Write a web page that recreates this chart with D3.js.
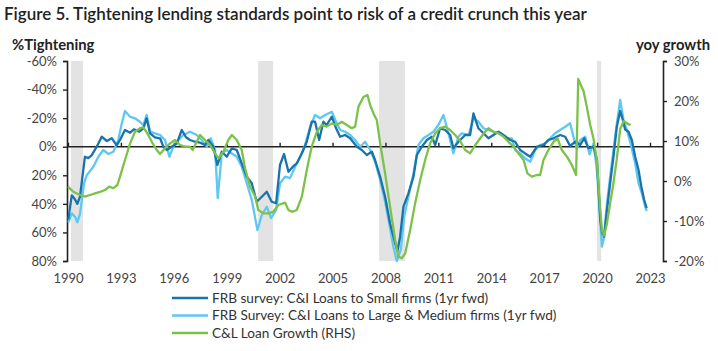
<!DOCTYPE html>
<html>
<head>
<meta charset="utf-8">
<script src="https://cdn.jsdelivr.net/npm/d3@7"></script>
<style>
  html, body { margin: 0; padding: 0; background: #fff; }
  text { font-family: Lato, "Noto Sans", sans-serif; fill: #333; }
</style>
</head>
<body>
<svg id="chart" width="718" height="351"></svg>
<script>
// ---------- DATA ----------
const title = "Figure 5. Tightening lending standards point to risk of a credit crunch this year";
const leftTitle = "%Tightening";
const rightTitle = "yoy growth";
const xTickYears = [1990, 1993, 1996, 1999, 2002, 2005, 2008, 2011, 2014, 2017, 2020, 2023];
const leftTicks = [-60, -40, -20, 0, 20, 40, 60, 80];
const rightTicks = [30, 20, 10, 0, -10, -20];
const seriesNames = [
  "FRB survey: C&I Loans to Small firms (1yr fwd)",
  "FRB Survey: C&I Loans to Large & Medium firms (1yr fwd)",
  "C&L Loan Growth (RHS)"
];
const recessions = [[1990.17, 1990.85], [2000.78, 2001.63], [2007.64, 2009.11], [2020.0, 2020.23]];

// [decimal year, % tightening]
const smallFirms = [
  [1990.02,51],[1990.21,34],[1990.40,37],[1990.53,40],[1990.68,35],[1990.96,7],[1991.15,8],[1991.34,6],
  [1991.63,0],[1991.91,-7],[1992.20,-4],[1992.48,-6],[1992.76,-1],[1992.95,-4.7],[1993.23,-11.7],[1993.52,-9.8],
  [1993.74,-12.2],[1994.04,-10.5],[1994.27,-12.9],[1994.46,-19.9],[1994.65,-9.4],[1994.93,-6.6],[1995.22,-5.9],
  [1995.41,0],[1995.60,2.3],[1995.88,0],[1996.17,-2.3],[1996.45,-11.7],[1996.69,-6.6],[1996.92,-4.7],[1997.20,-3.5],
  [1997.49,-2.8],[1997.77,-1.2],[1997.96,-4.7],[1998.24,0],[1998.47,12.8],[1998.72,3.5],[1999.00,7],[1999.29,1.2],
  [1999.57,2.3],[1999.85,11.7],[2000.14,21],[2000.42,25.6],[2000.70,38.5],[2000.99,35],[2001.27,31.5],[2001.55,38.5],
  [2001.80,39.6],[2002.02,12.8],[2002.25,5.1],[2002.50,17.5],[2002.75,14],[2002.97,11.7],[2003.26,4.7],[2003.54,-3.5],
  [2003.82,-17.5],[2004.01,-17.5],[2004.24,-4.7],[2004.48,-17.5],[2004.67,-15.2],[2004.96,-21],[2005.20,-12.9],
  [2005.43,-7],[2005.71,-8.2],[2006.00,-5.9],[2006.38,0],[2006.66,2.3],[2006.94,5.8],[2007.23,3.5],[2007.41,9.3],
  [2007.70,21],[2007.98,35],[2008.26,53.6],[2008.55,67.6],[2008.68,73],[2008.83,63],[2009.02,42],[2009.30,32.6],
  [2009.59,21],[2009.78,5.8],[2010.06,0],[2010.35,-4.7],[2010.63,-7],[2010.82,-1.2],[2011.10,-12.9],[2011.38,-11.7],
  [2011.67,-8.2],[2011.85,1],[2012.14,-3.5],[2012.52,-8.2],[2012.80,-8.2],[2012.99,-23.3],[2013.27,-12.9],[2013.56,-9.4],
  [2013.84,-5.9],[2014.12,-8.2],[2014.41,-10.5],[2014.69,-8.2],[2015.07,-4.7],[2015.35,-3.5],[2015.64,2.3],[2015.92,4.7],
  [2016.21,7],[2016.59,0],[2016.96,-1.2],[2017.24,-4.7],[2017.53,-5.9],[2017.91,-8.2],[2018.19,-7],[2018.47,-0.5],
  [2018.76,-3.5],[2019.04,-1.2],[2019.27,-5.9],[2019.51,1.2],[2019.80,0],[2019.99,9.3],[2020.18,51],[2020.27,59.5],
  [2020.40,63],[2020.56,44.3],[2020.74,25.6],[2020.93,7],[2021.12,-14],[2021.31,-25],[2021.46,-18.7],[2021.59,-12],
  [2021.78,-10.5],[2021.97,-4.7],[2022.16,7],[2022.35,16.3],[2022.51,28],[2022.67,37.3],[2022.81,43]
];

const largeFirms = [
  [1990.02,53],[1990.21,46.7],[1990.40,49],[1990.53,53],[1990.68,47],[1990.91,25.6],[1991.06,20],[1991.15,18.6],
  [1991.44,14],[1991.72,7],[1992.00,2.3],[1992.29,5.1],[1992.57,3.5],[1992.85,-4.7],[1993.05,-16.4],[1993.23,-25],
  [1993.52,-21],[1993.80,-19.9],[1994.08,-17.5],[1994.27,-15.2],[1994.46,-22.2],[1994.65,-10.5],[1994.93,-9.4],
  [1995.22,-8.2],[1995.50,-4.7],[1995.75,7],[1995.97,0],[1996.26,-4.7],[1996.54,-8.2],[1996.92,-10.5],[1997.30,-8.2],
  [1997.58,-4.7],[1997.87,0],[1998.09,-5.9],[1998.34,2.3],[1998.49,36],[1998.72,4.7],[1999.00,2.3],[1999.29,4.7],
  [1999.57,7],[1999.85,14],[2000.14,25.6],[2000.42,37.3],[2000.74,58.3],[2000.99,47.8],[2001.27,42],[2001.51,50],
  [2001.80,44.3],[2002.02,25.6],[2002.31,21],[2002.59,22],[2002.88,14],[2003.16,7],[2003.44,-1.2],[2003.73,-14],
  [2004.01,-22.2],[2004.29,-19.9],[2004.58,-22.2],[2004.96,-24.5],[2005.20,-17.5],[2005.43,-11.7],[2005.71,-10.5],
  [2006.00,-8.2],[2006.28,-4.7],[2006.56,0],[2006.85,-3.5],[2007.13,2.3],[2007.41,10.5],[2007.70,23.3],[2007.98,38.5],
  [2008.26,57],[2008.45,70],[2008.64,80],[2008.87,72],[2009.06,49],[2009.30,35],[2009.59,18.6],[2009.87,-1.2],
  [2010.15,-5.9],[2010.44,-8.2],[2010.72,-10.5],[2011.00,-15.2],[2011.29,-22.2],[2011.57,-9.4],[2011.85,4.7],
  [2012.14,-7],[2012.33,-9.4],[2012.71,-8.2],[2012.99,-19.9],[2013.27,-17.5],[2013.56,-12.9],[2013.84,-11.7],
  [2014.12,-10.5],[2014.50,-9.4],[2014.88,-5.9],[2015.17,-5.9],[2015.35,2.3],[2015.64,4.7],[2015.92,8.2],[2016.21,10.5],
  [2016.49,2.3],[2016.77,-1.2],[2017.06,-2.3],[2017.34,-5.9],[2017.62,-9.4],[2017.91,-11.7],[2018.19,-14],[2018.47,-16.4],
  [2018.66,-7],[2018.85,1.5],[2019.04,-4.7],[2019.33,-7],[2019.57,5.3],[2019.80,-2.3],[2019.99,16.3],[2020.14,44.3],
  [2020.27,70],[2020.37,65],[2020.56,39.6],[2020.74,21],[2020.93,2.3],[2021.12,-16.4],[2021.31,-32.7],[2021.50,-18.7],
  [2021.69,-11.7],[2021.92,-1.2],[2022.16,11.7],[2022.35,25.6],[2022.54,32.7],[2022.73,42],[2022.82,45]
];

// [decimal year, % yoy growth]
const loanGrowth = [
  [1990.00,-1.4],[1990.30,-2.7],[1990.68,-3.5],[1990.96,-3.9],[1991.25,-3.5],[1991.53,-3.1],[1991.82,-2.7],
  [1992.10,-2.25],[1992.34,-1.4],[1992.57,-1.8],[1992.80,-1],[1992.95,1.1],[1993.23,5.25],[1993.52,9.4],[1993.80,12.3],
  [1994.08,13.2],[1994.27,13.4],[1994.50,11.9],[1994.75,9.8],[1995.03,7.75],[1995.22,6.75],[1995.50,8.2],[1995.79,9.4],
  [1996.07,10.25],[1996.35,9],[1996.64,8.6],[1996.92,8.6],[1997.07,7.75],[1997.30,9.8],[1997.49,11.5],[1997.77,10.25],
  [1998.05,9],[1998.34,6.9],[1998.53,5.7],[1998.81,7.3],[1999.09,10.25],[1999.29,11.5],[1999.57,10.25],[1999.85,7.75],
  [2000.04,3.2],[2000.32,-1.4],[2000.61,-3.9],[2000.79,-7.25],[2001.08,-8.1],[2001.36,-8.1],[2001.64,-7.7],
  [2001.93,-6],[2002.31,-5.4],[2002.50,-7.25],[2002.69,-7.7],[2002.97,-7.25],[2003.26,-3.9],[2003.54,2.75],
  [2003.82,8.6],[2004.11,12.3],[2004.39,14],[2004.67,13.6],[2004.96,14.4],[2005.24,14],[2005.52,14.8],[2005.81,14],
  [2006.09,13.2],[2006.28,13.6],[2006.47,18.6],[2006.75,21],[2006.98,21.5],[2007.13,19],[2007.32,16.9],[2007.51,15.25],
  [2007.70,9.4],[2007.98,1.9],[2008.26,-6.4],[2008.55,-14.75],[2008.73,-18.9],[2008.93,-19.3],[2009.12,-18.1],
  [2009.40,-12.25],[2009.68,-5.6],[2009.97,0.25],[2010.25,5.25],[2010.53,9.4],[2010.82,11.9],[2011.10,13.2],
  [2011.38,13.6],[2011.67,12.75],[2011.95,11.5],[2012.24,10],[2012.52,7.75],[2012.80,6.9],[2013.09,9],[2013.37,10.7],
  [2013.65,12.3],[2013.84,13.2],[2014.12,12.3],[2014.41,11.9],[2014.69,11.1],[2014.97,9.8],[2015.26,8.6],[2015.54,6.9],
  [2015.83,5.25],[2016.05,1.9],[2016.30,1.1],[2016.59,1.5],[2016.77,1.5],[2016.96,5.25],[2017.24,7.75],[2017.53,9.8],
  [2017.75,10.7],[2018.00,7.75],[2018.29,6.1],[2018.57,4],[2018.81,1.5],[2018.93,25.5],[2019.23,22.5],[2019.42,18.5],
  [2019.61,14],[2019.80,10.5],[2019.99,5],[2020.14,-4.75],[2020.27,-12.25],[2020.40,-13.7],[2020.56,-10.6],
  [2020.74,-5.6],[2020.91,-1],[2021.11,5.25],[2021.31,13],[2021.51,15],[2021.78,14.2],[2021.90,14]
];

// ---------- CHART ----------
const svg = d3.select("#chart");
const colors = ["#1a73aa", "#5ec8f2", "#7cc24a"];

const x = d3.scaleLinear().domain([1990, 2023]).range([68, 650]);
const yL = d3.scaleLinear().domain([-60, 80]).range([61, 261]);
const yR = d3.scaleLinear().domain([30, -20]).range([61, 261]);
const xLeft = 67, xRight = 663;

// title
svg.append("text").attr("x", 4).attr("y", 20)
  .style("font-size", "17px").style("font-weight", "600").style("fill", "#222")
  .text(title);

svg.append("text").attr("x", 12).attr("y", 50)
  .style("font-size", "14.8px").style("font-weight", "700").style("fill", "#222")
  .text(leftTitle);
svg.append("text").attr("x", 710).attr("y", 50).attr("text-anchor", "end")
  .style("font-size", "14.8px").style("font-weight", "700").style("fill", "#222")
  .text(rightTitle);

// recession shading
svg.append("g").selectAll("rect").data(recessions).join("rect")
  .attr("x", d => x(d[0])).attr("width", d => x(d[1]) - x(d[0]))
  .attr("y", yL(-60)).attr("height", yL(80) - yL(-60))
  .attr("fill", "#e3e3e3");

// left axis
const gL = svg.append("g").attr("transform", `translate(${xLeft},0)`)
  .call(d3.axisLeft(yL).tickValues(leftTicks).tickSize(4).tickPadding(6)
    .tickFormat(d => d + "%"));
// right axis
const gR = svg.append("g").attr("transform", `translate(${xRight},0)`)
  .call(d3.axisRight(yR).tickValues(rightTicks).tickSize(4).tickPadding(7)
    .tickFormat(d => d + "%"));
[gL, gR].forEach(g => {
  g.select(".domain").attr("stroke", "#222").attr("stroke-width", 1.6);
  g.selectAll(".tick line").attr("stroke", "#222").attr("stroke-width", 1.4);
  g.selectAll(".tick text").style("font-family", "Lato, 'Noto Sans', sans-serif")
    .style("font-size", "13px").style("fill", "#444");
});

// zero line with x axis ticks pointing up
const gX = svg.append("g").attr("transform", `translate(0,${yL(0)})`)
  .call(d3.axisTop(x).tickValues(xTickYears).tickSize(4).tickFormat(""));
gX.select(".domain").remove();
gX.selectAll(".tick line").attr("stroke", "#222").attr("stroke-width", 1.4);
svg.append("line").attr("x1", xLeft).attr("x2", xRight)
  .attr("y1", yL(0)).attr("y2", yL(0))
  .attr("stroke", "#222").attr("stroke-width", 1.6);

// x labels at bottom
const gXB = svg.append("g").attr("transform", `translate(0,${yL(80)})`)
  .call(d3.axisBottom(x).tickValues(xTickYears).tickSize(0).tickPadding(13)
    .tickFormat(d3.format("d")));
gXB.select(".domain").remove();
gXB.selectAll(".tick text").style("font-family", "Lato, 'Noto Sans', sans-serif")
  .style("font-size", "13px").style("fill", "#444");

// lines
const lineL = d3.line().x(d => x(d[0])).y(d => yL(d[1]));
const lineR = d3.line().x(d => x(d[0])).y(d => yR(d[1]));
svg.append("path").datum(largeFirms).attr("d", lineL)
  .attr("fill", "none").attr("stroke", colors[1]).attr("stroke-width", 2.3).attr("stroke-linejoin", "round");
svg.append("path").datum(smallFirms).attr("d", lineL)
  .attr("fill", "none").attr("stroke", colors[0]).attr("stroke-width", 2.3).attr("stroke-linejoin", "round");
svg.append("path").datum(loanGrowth).attr("d", lineR)
  .attr("fill", "none").attr("stroke", colors[2]).attr("stroke-width", 2.3).attr("stroke-linejoin", "round");

// legend
const leg = svg.append("g").selectAll("g").data(seriesNames).join("g")
  .attr("transform", (d, i) => `translate(172,${298 + i * 17.5})`);
leg.append("line").attr("x1", 0).attr("x2", 36).attr("y1", 0).attr("y2", 0)
  .attr("stroke", (d, i) => colors[i]).attr("stroke-width", 2.5);
leg.append("text").attr("x", 40).attr("y", 0).attr("dy", "0.35em")
  .style("font-size", "13.6px").style("fill", "#333")
  .text(d => d);
</script>
</body>
</html>
